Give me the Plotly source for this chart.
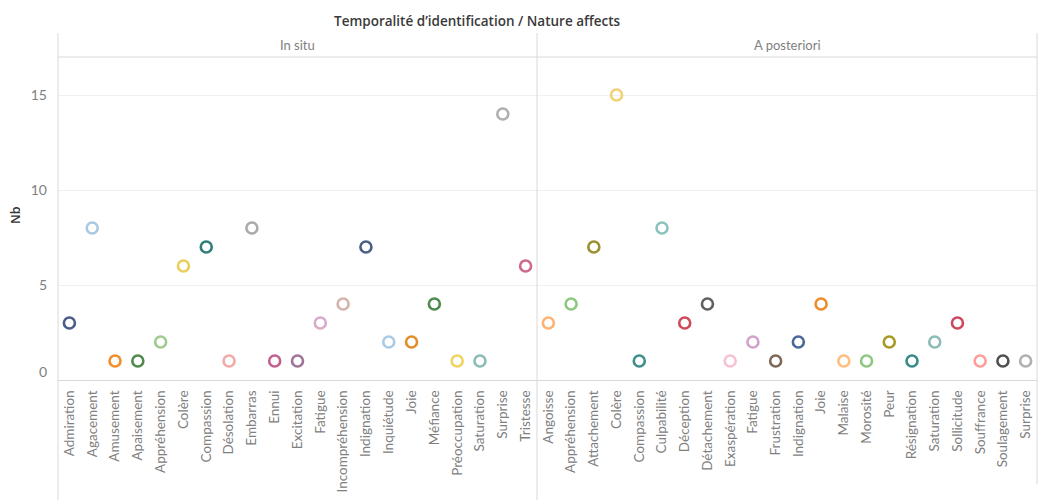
import plotly.graph_objects as go

# ---- data ----
insitu_cats = ["Admiration", "Agacement", "Amusement", "Apaisement", "Appréhension", "Colère",
               "Compassion", "Désolation", "Embarras", "Ennui", "Excitation", "Fatigue",
               "Incompréhension", "Indignation", "Inquiétude", "Joie", "Méfiance",
               "Préoccupation", "Saturation", "Surprise", "Tristesse"]
insitu_vals = [3, 8, 1, 1, 2, 6, 7, 1, 8, 1, 1, 3, 4, 7, 2, 2, 4, 1, 1, 14, 6]
insitu_colors = ["#4a5b8c", "#a9c9e2", "#f28e2b", "#4f8a4f", "#9ccc8e", "#e8cf5c",
                 "#2f7f78", "#f2a9a9", "#aaaaaa", "#c2628f", "#a07499", "#d8aacb",
                 "#d3b3ab", "#4b6082", "#aacbe6", "#e08f2b", "#4f8a4f",
                 "#f0d25e", "#8cbcb6", "#b0b0b0", "#d06888"]

apost_cats = ["Angoisse", "Appréhension", "Attachement", "Colère", "Compassion", "Culpabilité",
              "Déception", "Détachement", "Exaspération", "Fatigue", "Frustration", "Indignation",
              "Joie", "Malaise", "Morosité", "Peur", "Résignation", "Saturation", "Sollicitude",
              "Souffrance", "Soulagement", "Surprise"]
apost_vals = [3, 4, 7, 15, 1, 8, 3, 4, 1, 2, 1, 2, 4, 1, 1, 2, 1, 2, 3, 1, 1, 1]
apost_colors = ["#ffb273", "#8cc880", "#9a9030", "#f1d173", "#3f8f8a", "#8cc2bd",
                "#d14a5a", "#606060", "#f7c2d3", "#d2a2ca", "#806858", "#4a6898",
                "#f08c28", "#ffbe7d", "#8cc880", "#a89a20", "#3a8a8a", "#8cbcb6", "#d04860",
                "#ff9d9a", "#505050", "#b0b0b0"]

panel_names = ["In situ", "A posteriori"]
y_ticks = [0, 5, 10, 15]
title_text = "Temporalité d’identification / Nature affects"
y_title = "Nb"

# ---- layout geometry (screen pixels; page body adds an 8px offset) ----
OFF = 8
SW, SH = 1046, 500
PL, PR, PT, PB = 58, 1037, 57, 380          # plot area on screen
W, H = SW - OFF, SH - OFF
ML, MT = PL - OFF, PT - OFF
MR, MB = SW - PR, SH - PB
PW, PH = PR - PL, PB - PT
split = 537


def px_x(x):
    return (x - PL) / PW


def px_y(y):
    return (PB - y) / PH


FONT = "Lato"
GREY = "#808080"
LINE = "#d9d9d9"

fig = go.Figure()
for cats, vals, cols, xa in [(insitu_cats, insitu_vals, insitu_colors, "x"),
                             (apost_cats, apost_vals, apost_colors, "x2")]:
    fig.add_trace(go.Scatter(
        x=cats, y=vals, xaxis=xa, yaxis="y", mode="markers",
        marker=dict(symbol="circle-open", size=11, color=cols, line=dict(width=2.6)),
        showlegend=False, hoverinfo="x+y"))

d = px_x(split)
xcommon = dict(type="category", tickangle=-90, showgrid=False, zeroline=False,
               showline=True, linecolor=LINE, linewidth=1, ticks="",
               tickfont=dict(family=FONT, size=13.5, color=GREY), ticklabelstandoff=4,
               anchor="y")
fig.update_layout(
    width=W, height=H,
    margin=dict(l=ML, r=MR, t=MT, b=MB, autoexpand=False),
    paper_bgcolor="white", plot_bgcolor="white",
    font=dict(family=FONT, color=GREY),
    xaxis=dict(domain=[0, d], range=[-0.5, len(insitu_cats) - 0.5], **xcommon),
    xaxis2=dict(domain=[d, 1], range=[-0.5, len(apost_cats) - 0.5], **xcommon),
    yaxis=dict(range=[0, 17], tickvals=y_ticks[1:], showgrid=True, gridcolor="#f0f0f0",
               gridwidth=1, zeroline=False, showline=False, ticks="",
               tickfont=dict(family=FONT, size=14, color=GREY), ticklabelstandoff=10),
)

shapes = []
# vertical panel boundaries
for xp, ybot in [(PL, SH + 20), (split, SH + 20), (PR, 484)]:
    shapes.append(dict(type="line", xref="paper", yref="paper",
                       x0=px_x(xp), x1=px_x(xp), y0=px_y(33), y1=px_y(ybot),
                       line=dict(color=LINE, width=1)))
# header separator
shapes.append(dict(type="line", xref="paper", yref="paper", x0=0, x1=1,
                   y0=1, y1=1, line=dict(color=LINE, width=1)))
# small UI tab at top right
shapes.append(dict(type="rect", xref="paper", yref="paper", x0=px_x(988), x1=px_x(1046),
                   y0=px_y(3), y1=px_y(OFF - 2), fillcolor="#f0f0f0", line=dict(width=0)))
fig.update_layout(shapes=shapes)

ann = []
ann.append(dict(text=title_text, xref="paper", yref="paper", x=px_x(477), y=px_y(21),
                xanchor="center", yanchor="middle", showarrow=False,
                font=dict(family="Open Sans", size=13.5, color="#3a3a3a", weight=600)))
for name, (a, b) in zip(panel_names, [(0, d), (d, 1)]):
    ann.append(dict(text=name, xref="paper", yref="paper", x=(a + b) / 2, y=px_y(45),
                    xanchor="center", yanchor="middle", showarrow=False,
                    font=dict(family=FONT, size=13, color=GREY)))
ann.append(dict(text=y_title, xref="paper", yref="paper", x=px_x(15), y=px_y(215),
                xanchor="center", yanchor="middle", showarrow=False, textangle=-90,
                font=dict(family="Open Sans", size=12.5, color="#333333", weight=600)))
# "0" tick label sits slightly above the baseline, as in the reference
ann.append(dict(text=str(y_ticks[0]), xref="paper", yref="y", x=px_x(49), y=y_ticks[0],
                yshift=9, xanchor="right", yanchor="middle", showarrow=False,
                font=dict(family=FONT, size=14, color=GREY)))
fig.update_layout(annotations=ann)

fig.write_html("out.html")
